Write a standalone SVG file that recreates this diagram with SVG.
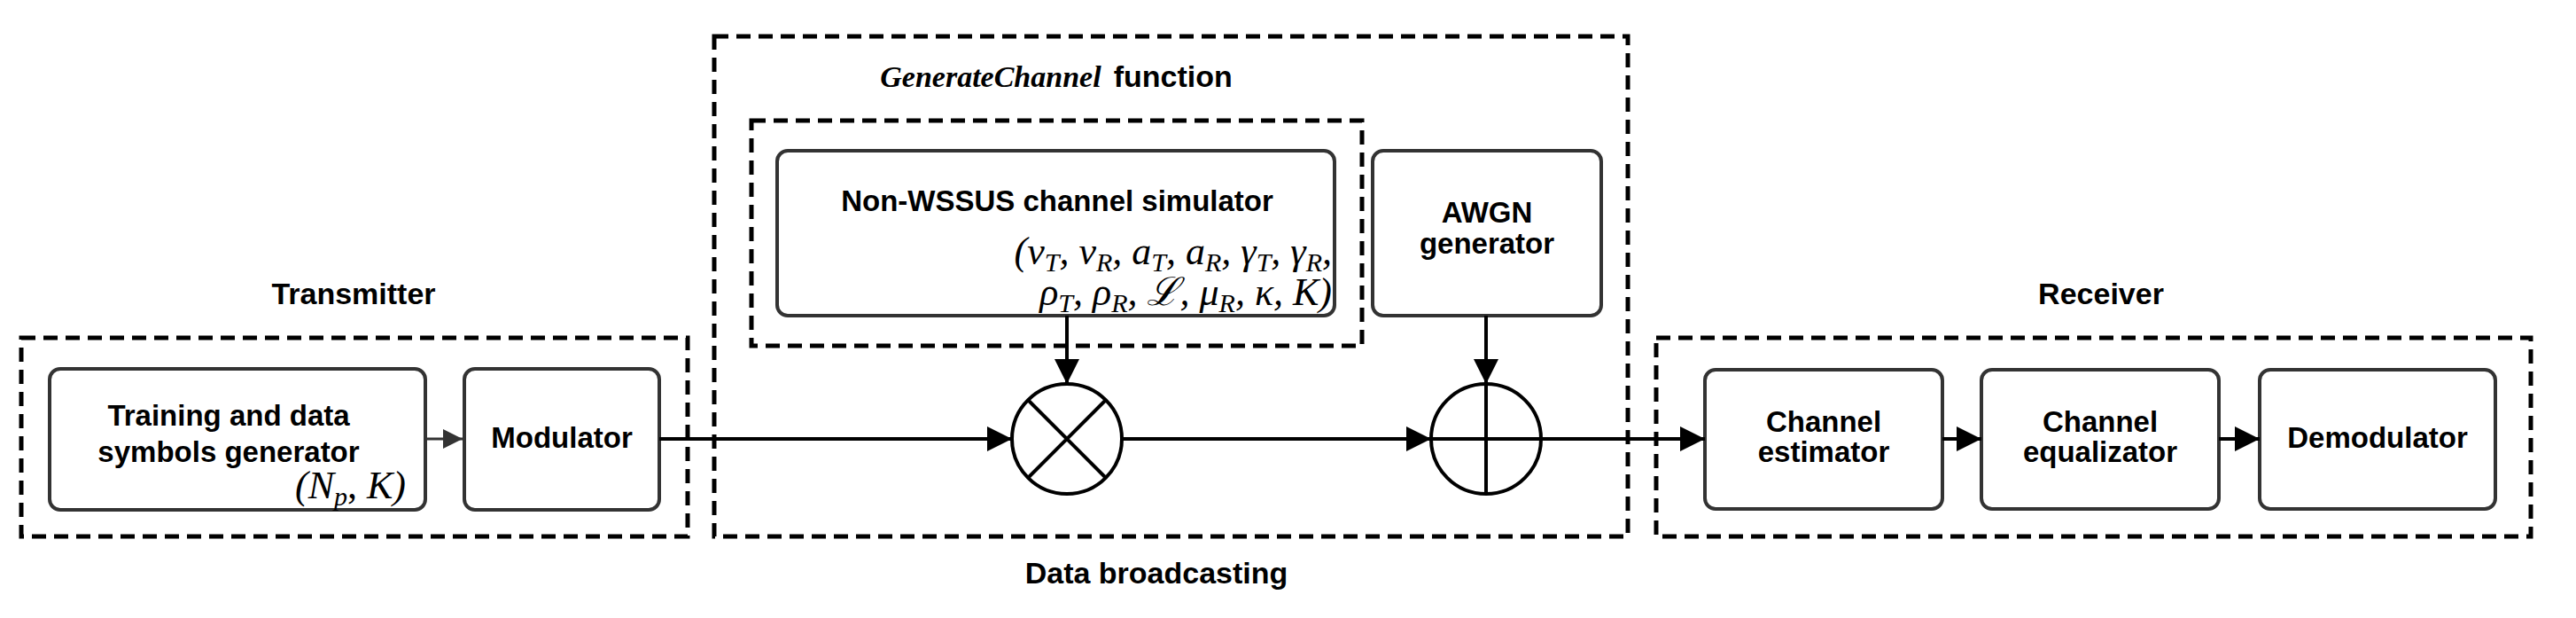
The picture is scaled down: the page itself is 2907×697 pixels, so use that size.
<svg xmlns="http://www.w3.org/2000/svg" width="2907" height="697" viewBox="0 0 2907 697">
<style>
.grp{fill:none;stroke:#000;stroke-width:5;stroke-dasharray:16 9}
.box{fill:#fff;stroke:#333;stroke-width:4}
.t{font-family:"Liberation Sans",Arial,sans-serif;font-weight:bold;font-size:33px;fill:#000;text-anchor:middle}
.lbl{font-family:"Liberation Sans",Arial,sans-serif;font-weight:bold;font-size:34px;fill:#000;text-anchor:middle}
.m{font-family:"Liberation Serif","DejaVu Serif",serif;font-style:italic;font-size:44px;fill:#000}
.c{stroke:#000;stroke-width:4;fill:none}
</style>
<defs>
<marker id="a" viewBox="0 0 10 10" refX="10" refY="5" markerWidth="30" markerHeight="28" markerUnits="userSpaceOnUse" orient="auto"><path d="M0,0 L10,5 L0,10 Z" fill="#000"/></marker>
<marker id="ag" viewBox="0 0 10 10" refX="10" refY="5" markerWidth="26" markerHeight="22" markerUnits="userSpaceOnUse" orient="auto"><path d="M0,0 L10,5 L0,10 Z" fill="#333"/></marker>
</defs>

<g id="transmitter-group">
<rect class="grp" x="24" y="381" width="752" height="224"/>
<text class="lbl" x="399" y="343">Transmitter</text>
</g>
<g id="broadcast-group">
<rect class="grp" x="806" y="41" width="1031" height="564"/>
<text x="1192" y="98" style="font-size:34px;text-anchor:middle;fill:#000"><tspan font-family="Liberation Serif,serif" font-style="italic" font-weight="bold">GenerateChannel</tspan><tspan font-family="Liberation Sans,sans-serif" font-weight="bold" dx="14">function</tspan></text>
<rect class="grp" x="848" y="136" width="689" height="254"/>
<text class="lbl" x="1305" y="658">Data broadcasting</text>
</g>
<g id="receiver-group">
<rect class="grp" x="1869" y="381" width="987" height="224"/>
<text class="lbl" x="2371" y="343">Receiver</text>
</g>

<g id="training">
<rect class="box" x="56" y="416" width="424" height="159" rx="12"/>
<text class="t" x="258" y="480">Training and data</text>
<text class="t" x="258" y="521">symbols generator</text>
<text class="m" x="458" y="562" text-anchor="end">(<tspan>N</tspan><tspan font-size="30" dy="8">p</tspan><tspan dy="-8" font-style="normal">, </tspan>K)</text>
</g>
<g id="modulator">
<rect class="box" x="524" y="416" width="220" height="159" rx="12"/>
<text class="t" x="634" y="505">Modulator</text>
</g>
<g id="simulator">
<rect class="box" x="877" y="170" width="629" height="186" rx="12"/>
<text class="t" x="1193" y="238">Non-WSSUS channel simulator</text>
<text class="m" x="1503" y="298" text-anchor="end">(ν<tspan font-size="30" dy="8">T</tspan><tspan dy="-8">, ν</tspan><tspan font-size="30" dy="8">R</tspan><tspan dy="-8">, a</tspan><tspan font-size="30" dy="8">T</tspan><tspan dy="-8">, a</tspan><tspan font-size="30" dy="8">R</tspan><tspan dy="-8">, γ</tspan><tspan font-size="30" dy="8">T</tspan><tspan dy="-8">, γ</tspan><tspan font-size="30" dy="8">R</tspan><tspan dy="-8">,</tspan></text>
<text class="m" x="1503" y="344" text-anchor="end">ρ<tspan font-size="30" dy="8">T</tspan><tspan dy="-8">, ρ</tspan><tspan font-size="30" dy="8">R</tspan><tspan dy="-8">, ℒ, μ</tspan><tspan font-size="30" dy="8">R</tspan><tspan dy="-8">, κ, K)</tspan></text>
</g>
<g id="awgn">
<rect class="box" x="1549" y="170" width="258" height="186" rx="12"/>
<text class="t" x="1678" y="251">AWGN</text>
<text class="t" x="1678" y="286">generator</text>
</g>
<g id="multiplier">
<circle cx="1204" cy="495" r="62" fill="#fff" stroke="#000" stroke-width="4"/>
<path d="M1160,451 L1248,539 M1248,451 L1160,539" stroke="#000" stroke-width="4"/>
</g>
<g id="adder">
<circle cx="1677" cy="495" r="62" fill="#fff" stroke="#000" stroke-width="4"/>
<path d="M1615,495 L1739,495 M1677,433 L1677,557" stroke="#000" stroke-width="4"/>
</g>
<g id="estimator">
<rect class="box" x="1924" y="417" width="268" height="157" rx="12"/>
<text class="t" x="2058" y="487">Channel</text>
<text class="t" x="2058" y="521">estimator</text>
</g>
<g id="equalizator">
<rect class="box" x="2236" y="417" width="268" height="157" rx="12"/>
<text class="t" x="2370" y="487">Channel</text>
<text class="t" x="2370" y="521">equalizator</text>
</g>
<g id="demodulator">
<rect class="box" x="2550" y="417" width="266" height="157" rx="12"/>
<text class="t" x="2683" y="505">Demodulator</text>
</g>

<g id="connectors">
<line x1="480" y1="495" x2="522" y2="495" stroke="#333" stroke-width="3" marker-end="url(#ag)"/>
<line class="c" x1="744" y1="495" x2="1142" y2="495" marker-end="url(#a)"/>
<line class="c" x1="1266" y1="495" x2="1615" y2="495" marker-end="url(#a)"/>
<line class="c" x1="1739" y1="495" x2="1924" y2="495" marker-end="url(#a)"/>
<line class="c" x1="2192" y1="495" x2="2236" y2="495" marker-end="url(#a)"/>
<line class="c" x1="2504" y1="495" x2="2550" y2="495" marker-end="url(#a)"/>
<line class="c" x1="1204" y1="356" x2="1204" y2="433" marker-end="url(#a)"/>
<line class="c" x1="1677" y1="356" x2="1677" y2="433" marker-end="url(#a)"/>
</g>
</svg>
